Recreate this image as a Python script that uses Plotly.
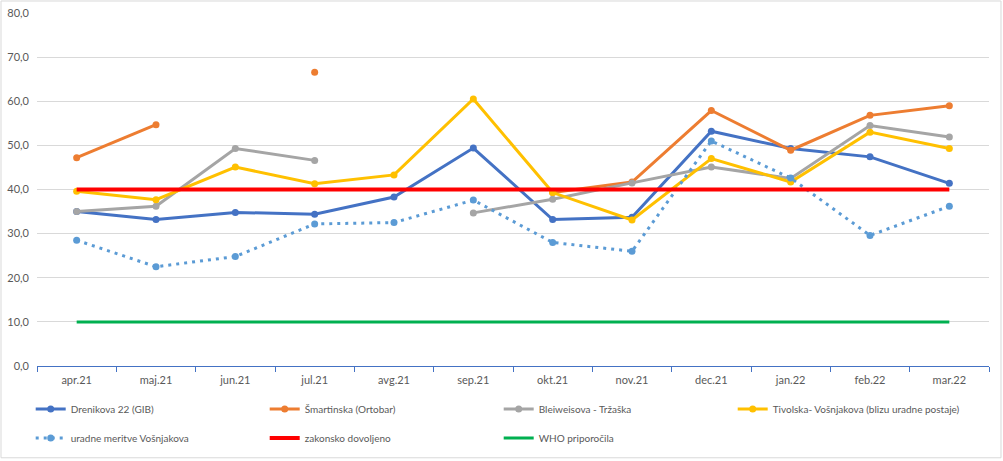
import plotly.graph_objects as go

months = ["apr.21", "maj.21", "jun.21", "jul.21", "avg.21", "sep.21",
          "okt.21", "nov.21", "dec.21", "jan.22", "feb.22", "mar.22"]

drenikova = [35.0, 33.2, 34.8, 34.4, 38.3, 49.4, 33.2, 33.7, 53.2, 49.3, 47.4, 41.4]
smartinska = [47.2, 54.7, None, 66.6, None, None, 39.3, 41.7, 57.9, 48.9, 56.8, 59.0]
bleiweisova = [35.0, 36.2, 49.3, 46.6, None, 34.7, 37.8, 41.5, 45.1, 42.5, 54.5, 51.9]
tivolska = [39.6, 37.7, 45.1, 41.3, 43.3, 60.5, 39.3, 33.1, 47.0, 41.7, 53.0, 49.3]
uradne = [28.5, 22.5, 24.8, 32.2, 32.5, 37.6, 28.0, 26.0, 51.0, 42.6, 29.6, 36.2]
zakonsko = [40.0] * 12
who = [10.0] * 12

names = ["Drenikova 22 (GIB)", "Šmartinska (Ortobar)", "Bleiweisova - Tržaška",
         "Tivolska- Vošnjakova (blizu uradne postaje)", "uradne meritve Vošnjakova",
         "zakonsko dovoljeno", "WHO priporočila"]

fig = go.Figure()

def add_series(y, name, color, dash="solid", markers=True, width=3, legend="legend"):
    fig.add_trace(go.Scatter(
        x=months, y=y, name=name,
        mode="lines+markers" if markers else "lines",
        line=dict(color=color, width=width, dash=dash),
        marker=dict(size=7, color=color),
        connectgaps=False, legend=legend,
    ))

add_series(drenikova, names[0], "#4472C4")
add_series(smartinska, names[1], "#ED7D31")
add_series(bleiweisova, names[2], "#A5A5A5")
add_series(tivolska, names[3], "#FFC000", legend="legend3")
add_series(uradne, names[4], "#5B9BD5", dash="3px,5px", legend="legend2")
add_series(zakonsko, names[5], "#FF0000", markers=False, width=4, legend="legend2")
add_series(who, names[6], "#00B050", markers=False, width=3, legend="legend2")

leg_common = dict(orientation="h", xref="container", yref="container",
                  xanchor="left", yanchor="middle",
                  entrywidth=189, entrywidthmode="pixels", itemwidth=30,
                  font=dict(size=10, color="#595959"), bgcolor="rgba(0,0,0,0)")

fig.update_layout(
    width=1003, height=461,
    margin=dict(l=37, r=14, t=13, b=95, autoexpand=False),
    paper_bgcolor="white", plot_bgcolor="white",
    separators=",.",
    font=dict(family="Lato, Liberation Sans, sans-serif", size=11, color="#595959"),
    showlegend=True,
    legend=dict(x=30.7 / 1003, y=1 - 409 / 461, **leg_common),
    legend2=dict(x=30.7 / 1003, y=1 - 438 / 461, **leg_common),
    legend3=dict(x=732.7 / 1003, y=1 - 409 / 461, orientation="h", xref="container",
                 yref="container", xanchor="left", yanchor="middle", itemwidth=30,
                 font=dict(size=10, color="#595959"), bgcolor="rgba(0,0,0,0)"),
    shapes=[dict(type="rect", xref="paper", yref="paper",
                 x0=-0.0378, x1=1.0126, y0=-0.26, y1=1.034,
                 line=dict(color="#D9D9D9", width=1), layer="below")],
)

fig.update_xaxes(
    type="category", range=[-0.5, 11.5], automargin=False,
    showline=True, linecolor="#4472C4", linewidth=1,
    ticks="outside", tickson="boundaries", ticklen=5, tickcolor="#4472C4",
    ticklabelstandoff=4,
    showgrid=False, tickfont=dict(size=11, color="#595959"),
)
fig.update_yaxes(
    range=[0, 80], dtick=10, tickformat=".1f", automargin=False,
    showgrid=True, gridcolor="#D9D9D9", gridwidth=1,
    zeroline=False, showline=False, ticks="", ticklabelstandoff=7,
    tickfont=dict(size=11, color="#595959"),
)

fig.write_html("out.html", config={"displayModeBar": False},
               post_script="document.body.style.margin='0px';")
